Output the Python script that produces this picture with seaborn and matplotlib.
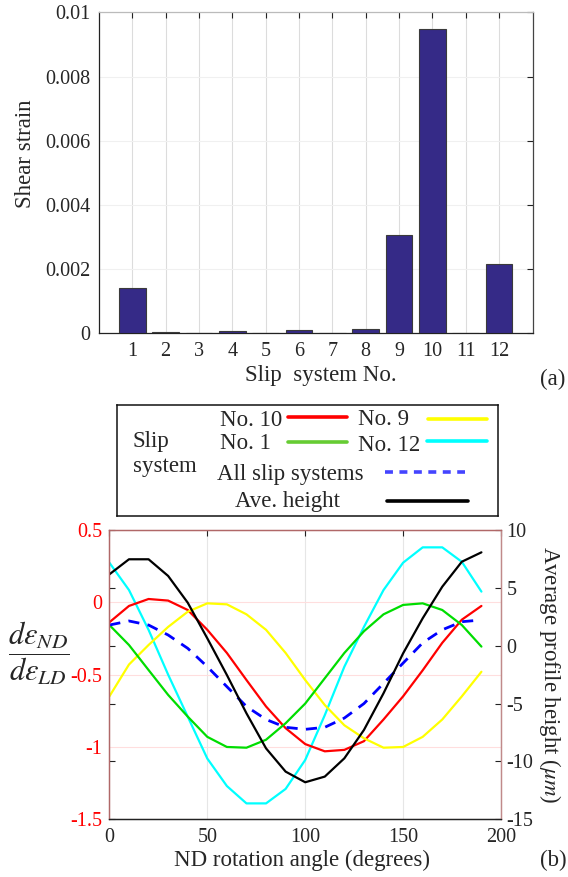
import numpy as np
import pandas as pd
import matplotlib
matplotlib.use("Agg")
import matplotlib.pyplot as plt
import seaborn as sns

# ---------------- data ----------------
slip_no = [1, 2, 3, 4, 5, 6, 7, 8, 9, 10, 11, 12]
shear_strain = [0.0014, 0.00003, 0.00002, 0.00006, 0.0, 0.0001,
                0.00002, 0.00012, 0.00305, 0.00947, 0.0, 0.00216]

angles = [0, 10, 20, 30, 40, 50, 60, 70, 80, 90,
          100, 110, 120, 130, 140, 150, 160, 170, 180, 190]
no10 = [-0.138, -0.025, 0.023, 0.012, -0.053, -0.19, -0.35, -0.537, -0.72, -0.87,
        -0.98, -1.03, -1.02, -0.96, -0.81, -0.65, -0.47, -0.28, -0.12, -0.025]
no9 = [-0.65, -0.43, -0.295, -0.17, -0.065, -0.007, -0.014, -0.083, -0.19, -0.35,
       -0.537, -0.71, -0.85, -0.94, -1.005, -1.0, -0.93, -0.81, -0.65, -0.48]
no1 = [-0.157, -0.295, -0.468, -0.64, -0.79, -0.93, -1.0, -1.005, -0.95, -0.836,
       -0.70, -0.525, -0.35, -0.20, -0.083, -0.018, -0.007, -0.053, -0.157, -0.306]
no12 = [0.274, 0.085, -0.19, -0.50, -0.79, -1.08, -1.27, -1.39, -1.39, -1.29,
        -1.09, -0.78, -0.445, -0.17, 0.085, 0.274, 0.38, 0.38, 0.28, 0.074]
all_slip = [-0.157, -0.129, -0.157, -0.226, -0.318, -0.445, -0.583, -0.72, -0.81, -0.864,
            -0.878, -0.864, -0.80, -0.70, -0.56, -0.42, -0.28, -0.19, -0.134, -0.122]
ave_height = [6.17, 7.47, 7.47, 6.03, 3.72, 0.64, -2.53, -5.84, -8.87, -10.88,
              -11.8, -11.31, -9.73, -7.28, -4.11, -0.66, 2.37, 5.10, 7.26, 8.07]

left_ticks = [-1.5, -1, -0.5, 0, 0.5]
left_ticklabels = ["-1.5", "-1", "-0.5", "0", "0.5"]
right_ticks = [-15, -10, -5, 0, 5, 10]
right_ticklabels = ["-15", "-10", "-5", "0", "5", "10"]
x_ticks = [0, 50, 100, 150, 200]
bar_yticks = [0, 0.002, 0.004, 0.006, 0.008, 0.01]
bar_yticklabels = ["0", "0.002", "0.004", "0.006", "0.008", "0.01"]

# ---------------- style ----------------
sns.set_style("white")
plt.rcParams["font.family"] = ["Liberation Serif", "DejaVu Serif"]
plt.rcParams["mathtext.fontset"] = "stix"

W, H = 568, 877
fig = plt.figure(figsize=(W / 100, H / 100), dpi=100)

def frac_rect(l, r, t, b):
    return [l / W, 1 - b / H, (r - l) / W, (b - t) / H]

FS_TICK = 14.5
FS_LAB = 16.5

# ---------------- (a) bar chart ----------------
ax = fig.add_axes(frac_rect(98.9, 532.5, 12.3, 333.3))
df_bar = pd.DataFrame({"slip": slip_no, "strain": shear_strain})
sns.barplot(data=df_bar, x="slip", y="strain", native_scale=True, width=0.8,
            color="#352a87", saturation=1, edgecolor="#3a3a3a", linewidth=0.8,
            errorbar=None, ax=ax, zorder=3)
ax.set_xlim(0, 13)
ax.set_ylim(0, 0.01)
ax.set_xticks(slip_no)
ax.set_xticklabels([str(s) for s in slip_no])
ax.set_yticks(bar_yticks)
ax.set_yticklabels(bar_yticklabels)
ax.tick_params(axis="both", labelsize=FS_TICK, direction="in", length=4,
               top=True, right=True, color="#222222", pad=6)
ax.grid(True, axis="x", color="#dcdcdc", lw=0.8, zorder=0)
ax.grid(True, axis="y", color="#f0f0f0", lw=0.8, zorder=0)
ax.set_axisbelow(True)
for side in ["left", "bottom"]:
    ax.spines[side].set_color("#222222")
ax.spines["top"].set_color("#bbbbbb")
ax.spines["right"].set_color("#444444")
for s in ax.spines.values():
    s.set_linewidth(0.9)
ax.set_xlabel("Slip  system No.", fontsize=FS_LAB)
ax.set_ylabel("Shear strain", fontsize=FS_LAB)
ax.xaxis.set_label_coords(0.512, -0.1)
ax.yaxis.set_label_coords(-0.145, 0.56)
fig.text(540 / W, 1 - 379 / H, "(a)", fontsize=FS_LAB, ha="left", va="center")

# ---------------- legend box ----------------
lg = fig.add_axes(frac_rect(116.7, 498, 405, 516))
lg.set_xlim(116.7, 498)
lg.set_ylim(516, 405)
lg.set_xticks([])
lg.set_yticks([])
for s in lg.spines.values():
    s.set_color("#111111")
    s.set_linewidth(1.1)
    s.set_visible(True)
fs_leg = 16.5
lg.text(133, 446.7, "Slip", fontsize=fs_leg, va="baseline")
lg.text(133, 471.7, "system", fontsize=fs_leg, va="baseline")
entries = [
    ("No. 10", 220, 426, "red", (288, 347), 417, "-"),
    ("No. 9", 358, 425, "yellow", (428, 487), 419, "-"),
    ("No. 1", 220, 449.3, "#66cc33", (288, 347), 441.7, "-"),
    ("No. 12", 358, 450.7, "cyan", (427, 487), 440.7, "-"),
    ("All slip systems", 217, 480, "#4444ff", (385, 465), 471.7, "--"),
    ("Ave. height", 235, 506.7, "black", (387, 468), 500.7, "-"),
]
for label, tx, ty, col, (x0, x1), ly, ls in entries:
    lg.text(tx, ty, label, fontsize=fs_leg, va="baseline")
    if ls == "--":
        lg.plot([x0, x1], [ly, ly], color=col, lw=2.6, ls=(0, (2.2, 1.8)))
    else:
        lg.plot([x0, x1], [ly, ly], color=col, lw=2.6)

# ---------------- (b) line chart ----------------
bx = fig.add_axes(frac_rect(109.4, 501.0, 530, 819.3))
lw = 1.6
sns.lineplot(x=angles, y=no12, color="cyan", lw=lw, ax=bx)
sns.lineplot(x=angles, y=no10, color="red", lw=lw, ax=bx)
sns.lineplot(x=angles, y=no9, color="yellow", lw=lw, ax=bx)
sns.lineplot(x=angles, y=no1, color="#00dd00", lw=lw, ax=bx)
sns.lineplot(x=angles, y=all_slip, color="blue", lw=2.0, ls=(0, (4, 3)), ax=bx)
bx.set_xlim(0, 200)
bx.set_ylim(-1.5, 0.5)
bx.set_xticks(x_ticks)
bx.set_xticklabels([str(v) for v in x_ticks])
bx.set_yticks(left_ticks)
bx.set_yticklabels(left_ticklabels)
bx.tick_params(axis="y", labelcolor="red", labelsize=FS_TICK, length=0, pad=5)
bx.tick_params(axis="x", labelsize=FS_TICK, direction="in", length=4, top=True,
               color="#222222", pad=6)
bx.grid(True, axis="x", color="#e6e6e6", lw=0.8)
bx.grid(True, axis="y", color="#ffdede", lw=0.8)
bx.set_axisbelow(True)
bx.set_xlabel("ND rotation angle (degrees)", fontsize=FS_LAB)
bx.xaxis.set_label_coords(0.491, -0.105)
bx.set_ylabel(r"$\dfrac{d\varepsilon_{ND}}{d\varepsilon_{LD}}$", fontsize=22,
              rotation=0, ha="center", va="center")
bx.yaxis.set_label_coords(-0.18, 0.575)

bx2 = bx.twinx()
sns.lineplot(x=angles, y=ave_height, color="black", lw=lw, ax=bx2)
bx2.set_ylim(-15, 10)
bx2.set_yticks(right_ticks)
bx2.set_yticklabels(right_ticklabels)
bx2.yaxis.set_ticks_position("both")
bx2.tick_params(axis="y", labelsize=FS_TICK, direction="in", length=4,
                labelleft=False, labelright=True, color="#222222", pad=4)
bx2.set_ylabel(r"Average profile height ($\mu m$)", fontsize=FS_LAB, rotation=-90,
               ha="center", va="center")
bx2.yaxis.set_label_coords(1.125, 0.5)

for a in (bx, bx2):
    a.spines["left"].set_color("#b06868")
    a.spines["top"].set_color("#b06868")
    a.spines["right"].set_color("#c08a8a")
    a.spines["bottom"].set_color("#222222")
    for s in a.spines.values():
        s.set_linewidth(0.9)

fig.text(567 / W, 1 - 860 / H, "(b)", fontsize=FS_LAB, ha="right", va="center")

fig.savefig("out.png", dpi=100)
